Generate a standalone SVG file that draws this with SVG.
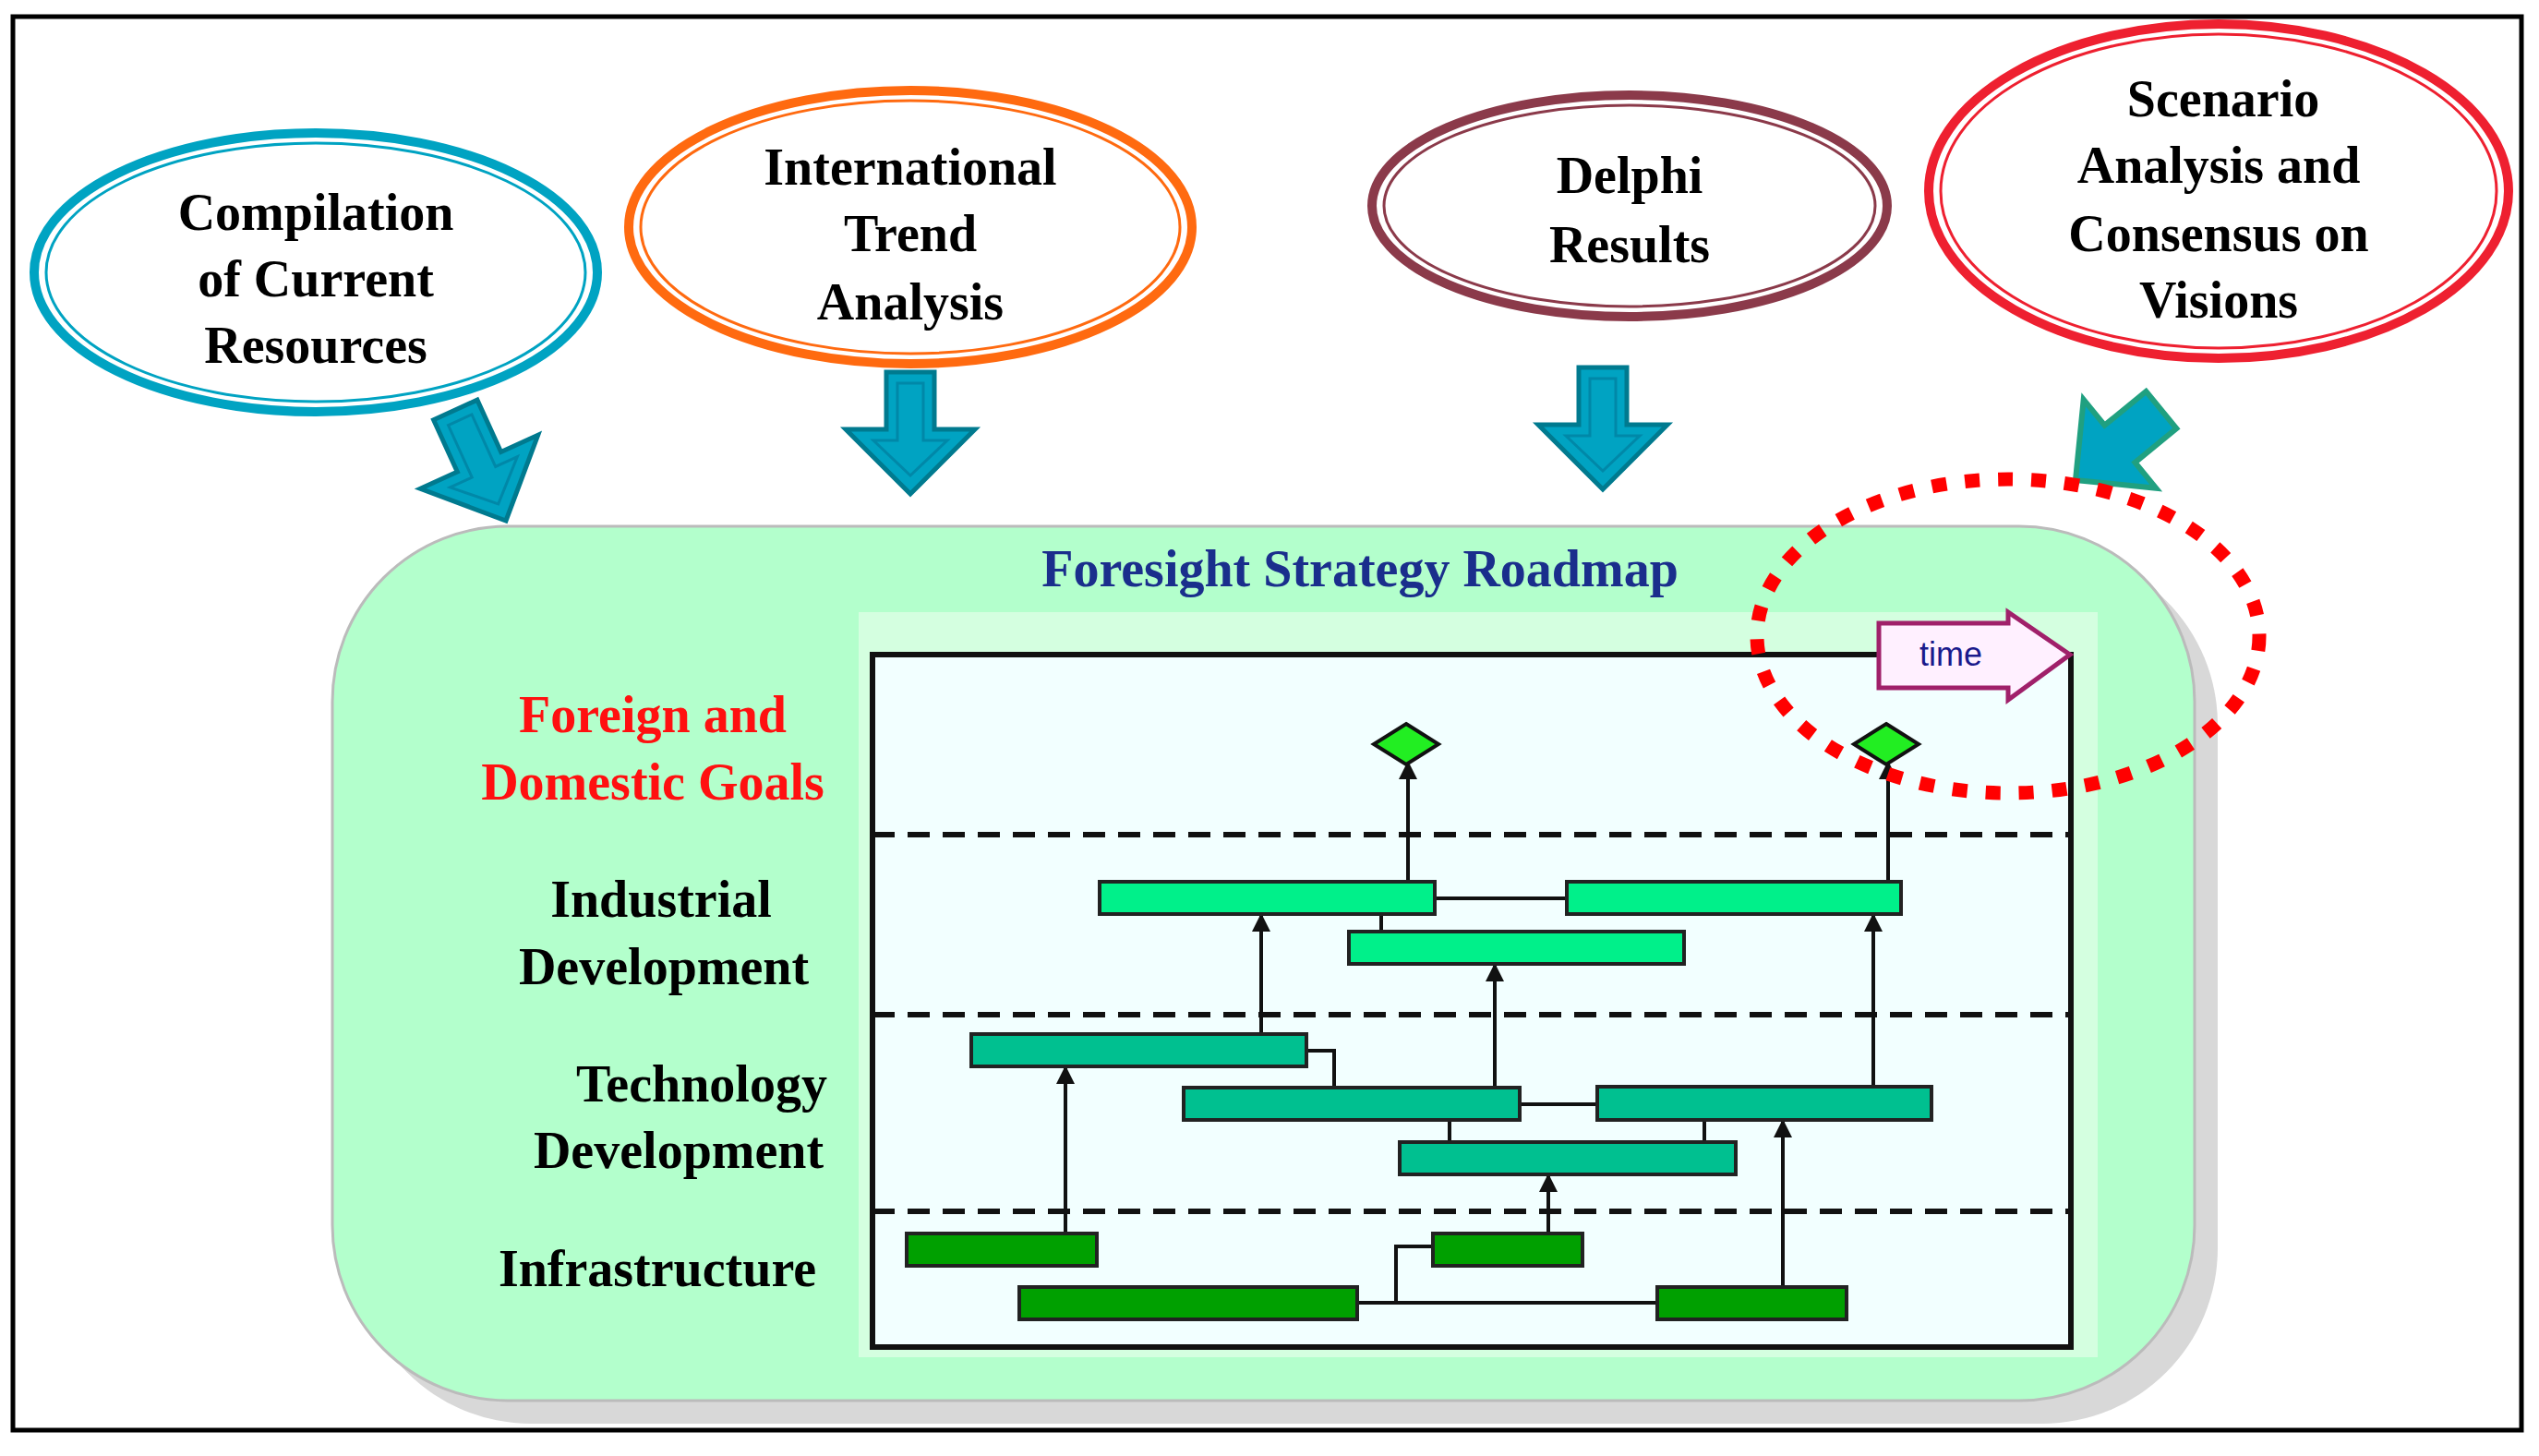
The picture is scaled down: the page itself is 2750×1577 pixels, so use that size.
<svg xmlns="http://www.w3.org/2000/svg" width="2750" height="1577" viewBox="0 0 2750 1577">
<style>
.t{font-family:"Liberation Serif",serif;font-weight:bold;font-size:56px;text-anchor:middle;fill:#000}
.bar1{fill:#00F08A;stroke:#222;stroke-width:4}
.bar2{fill:#00C090;stroke:#222;stroke-width:4}
.bar3{fill:#00A000;stroke:#222;stroke-width:4}
.ln{stroke:#111;stroke-width:4;fill:none}
.dash{stroke:#111;stroke-width:6;stroke-dasharray:24 14}
.arr{fill:#00A3C2;stroke:#007A8F;stroke-width:5}
.arrin{fill:none;stroke:#0088A8;stroke-width:3}
</style>
<defs>
<marker id="ah" viewBox="0 0 10 10" refX="9" refY="5" markerWidth="5" markerHeight="5" orient="auto"><path d="M0,0 L10,5 L0,10 Z" fill="#111"/></marker>
<g id="darrow"><path class="arr" d="M-26,-132 H26 V-70 H70 L0,0 L-70,-70 H-26 Z"/><path class="arrin" d="M-14,-120 H14 V-58 H40 L0,-20 L-40,-58 H-14 Z"/></g>
</defs>
<rect x="0" y="0" width="2750" height="1577" fill="#fff"/>
<rect x="14" y="18" width="2717" height="1531" fill="#fff" stroke="#000" stroke-width="5"/>

<g id="panel">
<rect x="385" y="595" width="2017" height="947" rx="190" fill="#D8D8D8"/>
<rect x="360" y="570" width="2017" height="947" rx="190" fill="#B3FFCC" stroke="#bbb" stroke-width="3"/>
<text x="1473" y="635" class="t" style="fill:#1A2E8C">Foresight Strategy Roadmap</text>
<rect x="930" y="663" width="1342" height="807" fill="#D4FFE0"/>
<rect x="945" y="709" width="1298" height="750" fill="#F2FFFF" stroke="#111" stroke-width="6"/>
</g>

<g id="labels">
<text x="707" y="793" class="t" style="fill:#FF1010">Foreign and</text>
<text x="707" y="866" class="t" style="fill:#FF1010">Domestic Goals</text>
<text x="716" y="993" class="t">Industrial</text>
<text x="719" y="1066" class="t">Development</text>
<text x="760" y="1193" class="t">Technology</text>
<text x="735" y="1265" class="t">Development</text>
<text x="712" y="1393" class="t">Infrastructure</text>
</g>

<g id="connectors">
<line class="dash" x1="945" y1="904" x2="2243" y2="904"/>
<line class="dash" x1="945" y1="1099" x2="2243" y2="1099"/>
<line class="dash" x1="945" y1="1312" x2="2243" y2="1312"/>
<line class="ln" x1="1525" y1="955" x2="1525" y2="826" marker-end="url(#ah)"/>
<line class="ln" x1="2045" y1="955" x2="2045" y2="826" marker-end="url(#ah)"/>
<line class="ln" x1="1554" y1="973" x2="1697" y2="973"/>
<line class="ln" x1="1496" y1="990" x2="1496" y2="1009"/>
<line class="ln" x1="1366" y1="1120" x2="1366" y2="991" marker-end="url(#ah)"/>
<line class="ln" x1="1619" y1="1178" x2="1619" y2="1045" marker-end="url(#ah)"/>
<line class="ln" x1="2029" y1="1177" x2="2029" y2="991" marker-end="url(#ah)"/>
<polyline class="ln" points="1415,1138 1445,1138 1445,1178"/>
<line class="ln" x1="1646" y1="1196" x2="1730" y2="1196"/>
<line class="ln" x1="1570" y1="1213" x2="1570" y2="1237"/>
<line class="ln" x1="1846" y1="1213" x2="1846" y2="1237"/>
<line class="ln" x1="1154" y1="1336" x2="1154" y2="1156" marker-end="url(#ah)"/>
<line class="ln" x1="1677" y1="1336" x2="1677" y2="1273" marker-end="url(#ah)"/>
<line class="ln" x1="1931" y1="1394" x2="1931" y2="1214" marker-end="url(#ah)"/>
<line class="ln" x1="1470" y1="1411" x2="1795" y2="1411"/>
<polyline class="ln" points="1512,1411 1512,1350 1552,1350"/>
</g>

<g id="diamonds">
<path d="M1523,784 L1558,806 L1523,828 L1488,806 Z" fill="#22EE22" stroke="#111" stroke-width="4"/>
<path d="M2043,784 L2078,806 L2043,828 L2008,806 Z" fill="#22EE22" stroke="#111" stroke-width="4"/>
</g>

<g id="bars">
<rect class="bar1" x="1191" y="955" width="363" height="35"/>
<rect class="bar1" x="1697" y="955" width="362" height="35"/>
<rect class="bar1" x="1461" y="1009" width="363" height="35"/>
<rect class="bar2" x="1052" y="1120" width="363" height="35"/>
<rect class="bar2" x="1282" y="1178" width="364" height="35"/>
<rect class="bar2" x="1730" y="1177" width="362" height="36"/>
<rect class="bar2" x="1516" y="1237" width="364" height="35"/>
<rect class="bar3" x="982" y="1336" width="206" height="35"/>
<rect class="bar3" x="1552" y="1336" width="162" height="35"/>
<rect class="bar3" x="1104" y="1394" width="366" height="35"/>
<rect class="bar3" x="1795" y="1394" width="205" height="35"/>
</g>

<g id="time">
<path d="M2035,675 H2175 V663 L2242,709 L2175,758 V745 H2035 Z" fill="#FFF0FF" stroke="#A0206A" stroke-width="5"/>
<text x="2113" y="721" style="font-family:'Liberation Sans',sans-serif;font-size:36px;fill:#1A1A8C" text-anchor="middle">time</text>
</g>

<g id="n1">
<ellipse cx="342" cy="295" rx="305" ry="151" fill="#fff" stroke="#00A3C2" stroke-width="10"/>
<ellipse cx="342" cy="295" rx="292" ry="140" fill="none" stroke="#00A3C2" stroke-width="3"/>
<text x="342" y="249" class="t">Compilation</text>
<text x="342" y="321" class="t">of Current</text>
<text x="342" y="393" class="t">Resources</text>
</g>
<g id="n2">
<ellipse cx="986" cy="246" rx="305" ry="148" fill="#fff" stroke="#FF6A10" stroke-width="10"/>
<ellipse cx="986" cy="246" rx="292" ry="137" fill="none" stroke="#FF6A10" stroke-width="3"/>
<text x="986" y="200" class="t">International</text>
<text x="986" y="272" class="t">Trend</text>
<text x="986" y="346" class="t">Analysis</text>
</g>
<g id="n3">
<ellipse cx="1765" cy="223" rx="279" ry="120" fill="#fff" stroke="#8B3A4A" stroke-width="10"/>
<ellipse cx="1765" cy="223" rx="266" ry="109" fill="none" stroke="#8B3A4A" stroke-width="3"/>
<text x="1765" y="209" class="t">Delphi</text>
<text x="1765" y="284" class="t">Results</text>
</g>
<g id="n4">
<ellipse cx="2403" cy="207" rx="314" ry="181" fill="#fff" stroke="#EE2030" stroke-width="10"/>
<ellipse cx="2403" cy="207" rx="301" ry="170" fill="none" stroke="#EE2030" stroke-width="3"/>
<text x="2408" y="126" class="t">Scenario</text>
<text x="2403" y="198" class="t">Analysis and</text>
<text x="2403" y="272" class="t">Consensus on</text>
<text x="2403" y="344" class="t">Visions</text>
</g>

<g id="arrows">
<use href="#darrow" transform="translate(548,564) rotate(-24.5)"/>
<use href="#darrow" transform="translate(986,535)"/>
<use href="#darrow" transform="translate(1736,530)"/>
<g transform="translate(2248,520) rotate(50.7)"><path d="M-26,-120 H26 V-62 H62 L0,0 L-62,-62 H-26 Z" fill="#00A3C2" stroke="#20A080" stroke-width="6"/></g>
</g>

<ellipse id="focus" cx="2175" cy="689" rx="272" ry="170" fill="none" stroke="#FF0000" stroke-width="15" stroke-dasharray="16 20"/>
</svg>
